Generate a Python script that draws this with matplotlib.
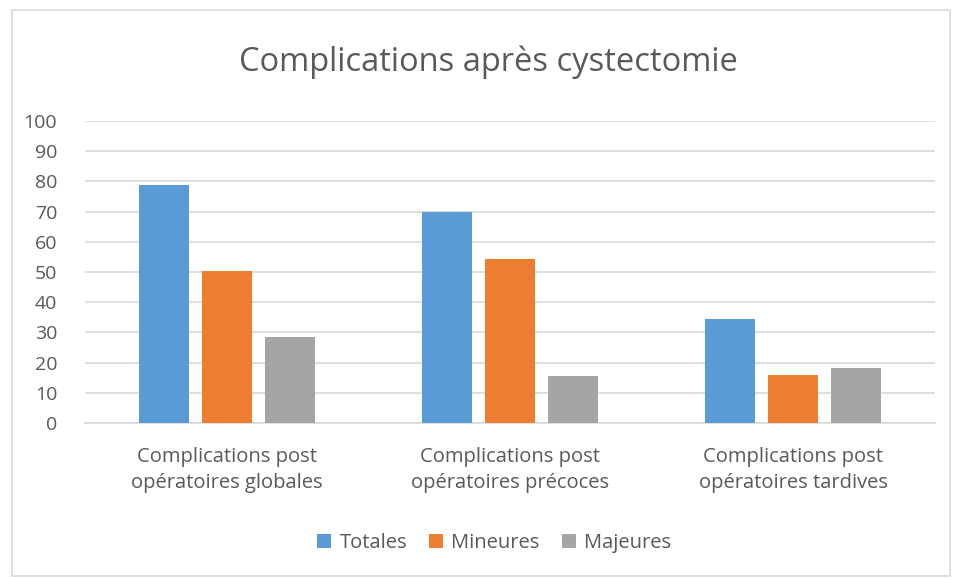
import numpy as np
import matplotlib
matplotlib.use("Agg")
import matplotlib.pyplot as plt
from matplotlib.patches import Rectangle

# Data
CATEGORIES = ["Complications post\nopératoires globales",
              "Complications post\nopératoires précoces",
              "Complications post\nopératoires tardives"]
TOTALES = [78.7, 70.0, 34.6]
MINEURES = [50.2, 54.3, 15.9]
MAJEURES = [28.4, 15.7, 18.2]
SERIES_NAMES = ["Totales", "Mineures", "Majeures"]
COLORS = ["#5B9BD5", "#ED7D31", "#A5A5A5"]
Y_TICKS = [0, 10, 20, 30, 40, 50, 60, 70, 80, 90, 100]

plt.rcParams["font.family"] = ["Open Sans", "DejaVu Sans"]
TEXT = "#595959"

fig = plt.figure(figsize=(9.56, 5.78), dpi=100)
ax = fig.add_axes([0.0889, 0.268, 0.889, 0.5227])

# chart border
fig.patches.append(Rectangle((12 / 956, 2 / 578), 938 / 956, 566 / 578,
                             transform=fig.transFigure, fill=False,
                             edgecolor="#d9d9d9", linewidth=1.2))

x = np.arange(len(CATEGORIES))
width = 0.177
step = 0.2226
for i, (vals, name, col) in enumerate(zip([TOTALES, MINEURES, MAJEURES], SERIES_NAMES, COLORS)):
    ax.bar(x + (i - 1) * step, vals, width, color=col, label=name, zorder=3)

ax.set_xlim(-0.5, 2.5)
ax.set_ylim(0, 100)
ax.set_yticks(Y_TICKS)
ax.set_xticks(x)
ax.set_xticklabels(CATEGORIES, fontsize=14.5, color=TEXT, linespacing=1.45)
ax.tick_params(axis="y", labelsize=14, labelcolor=TEXT, length=0, pad=20)
ax.tick_params(axis="x", length=0, pad=17)
ax.grid(axis="y", color="#d9d9d9", linewidth=1.2, zorder=0)
for s in ["top", "right", "left"]:
    ax.spines[s].set_visible(False)
ax.spines["bottom"].set_color("#d9d9d9")
ax.spines["bottom"].set_linewidth(1.2)

fig.text(0.511, 0.892, "Complications après cystectomie", ha="center", va="center",
         fontsize=23.5, color=TEXT)

fig.legend(loc="center", bbox_to_anchor=(0.517, 0.061), ncol=3, frameon=False,
           fontsize=14.5, handlelength=0.7, handleheight=0.7, handletextpad=0.4,
           columnspacing=1.1, labelcolor=TEXT)

fig.savefig("out.png", dpi=100)
